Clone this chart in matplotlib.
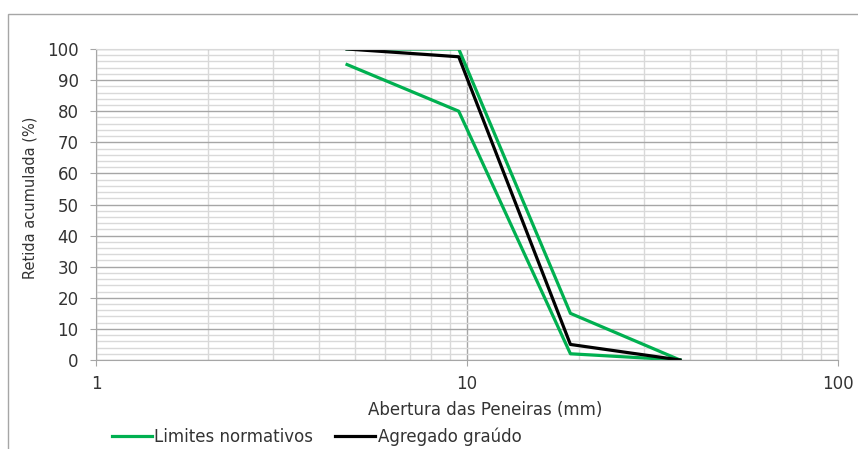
import numpy as np
import matplotlib.pyplot as plt
from matplotlib.patches import Rectangle
from matplotlib.ticker import FixedLocator, NullFormatter

# sieve openings (mm) and cumulative retained (%)
sieves = [4.75, 9.5, 19, 37.5]
lim_upper = [100, 100, 15, 0]
lim_lower = [95, 80, 2, 0]
agregado = [100, 97.5, 5, 0]

GREEN = '#00B050'
TXT = '#333333'

plt.rcParams['font.family'] = ['DejaVu Sans']

W, H = 858, 449
fig = plt.figure(figsize=(W / 100, H / 100), dpi=100)
ax = fig.add_axes([96 / W, 1 - 360 / H, (838 - 96) / W, (360 - 49) / H])

# outer chart frame
fig.patches.append(Rectangle((8 / W, -0.01), 1.0, 1 - 14 / H + 0.01,
                             transform=fig.transFigure, fill=False,
                             edgecolor='#A6A6A6', linewidth=1.0))

ax.set_xscale('log')
ax.set_xlim(1, 100)
ax.set_ylim(0, 100)

ax.set_xticks([1, 10, 100])
ax.set_xticklabels(['1', '10', '100'])
minor_x = [m * d for d in (1, 10) for m in range(2, 10)]
ax.xaxis.set_minor_locator(FixedLocator(minor_x))
ax.xaxis.set_minor_formatter(NullFormatter())
ax.set_yticks(np.arange(0, 101, 10))
ax.yaxis.set_minor_locator(FixedLocator(np.arange(0, 101, 2)))

ax.grid(which='major', color='#A6A6A6', linewidth=1.0)
ax.grid(which='minor', color='#D9D9D9', linewidth=1.0)
ax.set_axisbelow(True)

for s in ('top', 'right'):
    ax.spines[s].set_color('#D9D9D9')
for s in ('left', 'bottom'):
    ax.spines[s].set_color('#A6A6A6')

ax.tick_params(which='major', length=4.5, color='#A6A6A6', labelsize=12, labelcolor=TXT)
ax.tick_params(which='minor', length=0)
ax.tick_params(axis='x', pad=6)
ax.tick_params(axis='y', pad=8)

ax.plot(sieves, lim_upper, color=GREEN, linewidth=1.4, label='Limites normativos')
ax.plot(sieves, lim_lower, color=GREEN, linewidth=2.3)
ax.plot(sieves, agregado, color='black', linewidth=2.3, label='Agregado graúdo')

fig.text(485 / W, 1 - 410 / H, 'Abertura das Peneiras (mm)', fontsize=12,
         color=TXT, ha='center', va='center')
fig.text(30 / W, 1 - 198 / H, 'Retida acumulada (%)', fontsize=10.5,
         color=TXT, ha='center', va='center', rotation=90)

h, l = ax.get_legend_handles_labels()
h[0].set_linewidth(2.3)
leg = fig.legend(h, l, loc='center left', bbox_to_anchor=(112 / W, 1 - 437 / H),
                 ncol=2, frameon=False, fontsize=12, handlelength=2.4,
                 handletextpad=0.15, columnspacing=1.3, borderaxespad=0, borderpad=0)
for t in leg.get_texts():
    t.set_color(TXT)

fig.savefig('out.png', dpi=100)
